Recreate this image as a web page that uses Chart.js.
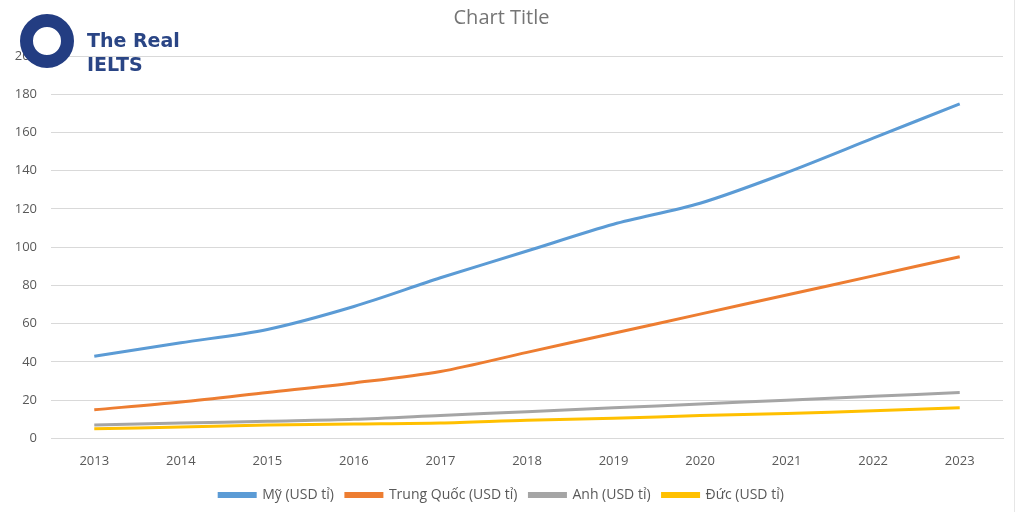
<!DOCTYPE html>
<html>
<head>
<meta charset="utf-8">
<script src="https://cdn.jsdelivr.net/npm/chart.js@4"></script>
<style>
  html, body { margin: 0; padding: 0; background: #fff; }
  #wrap { position: relative; width: 1024px; height: 512px; }
  #logo { position: absolute; left: 0; top: 0; pointer-events: none; }
  #logo .ring { position: absolute; left: 20px; top: 14px; width: 54px; height: 54px; border-radius: 50%;
                border: 13px solid #233d82; box-sizing: border-box; background: #fff; }
  #logo .txt { position: absolute; left: 87px; top: 28px; font-family: "DejaVu Sans", sans-serif; font-weight: bold;
               font-size: 19px; line-height: 24px; color: #2a4585; white-space: nowrap; }
  #edge { position: absolute; left: 1014px; top: 0; width: 1px; height: 512px; background: #e6e6e6; }
</style>
</head>
<body>
<div id="wrap">
  <canvas id="visitsChart" width="1024" height="512"></canvas>
  <div id="logo"><div class="ring"></div><div class="txt">The Real<br>IELTS</div></div>
  <div id="edge"></div>
</div>
<script>
// données
const years = ['2013', '2014', '2015', '2016', '2017', '2018', '2019', '2020', '2021', '2022', '2023'];
const my = [43, 50, 57, 69, 84, 98, 112, 123, 139, 157, 175];
const trungQuoc = [15, 19, 24, 29, 35, 45, 55, 65, 75, 85, 95];
const anh = [7, 8, 9, 10, 12, 14, 16, 18, 20, 22, 24];
const duc = [5, 6, 7, 7.5, 8, 9.5, 10.5, 12, 13, 14.5, 16];

const textColor = '#595959';

function serie(label, data, color) {
    return {
        label: label,
        data: data,
        borderColor: color,
        backgroundColor: color,
        borderWidth: 3,
        tension: 0.3,
        pointRadius: 0,
        fill: false
    };
}

const ctx = document.getElementById('visitsChart').getContext('2d');
new Chart(ctx, {
    type: 'line',
    data: {
        labels: years,
        datasets: [
            serie('Mỹ (USD tỉ)', my, '#5b9bd5'),
            serie('Trung Quốc (USD tỉ)', trungQuoc, '#ed7d31'),
            serie('Anh (USD tỉ)', anh, '#a5a5a5'),
            serie('Đức (USD tỉ)', duc, '#ffc000')
        ]
    },
    options: {
        responsive: false,
        animation: false,
        layout: { padding: { left: 0, right: 21, top: 6, bottom: 0 } },
        plugins: {
            title: {
                display: true,
                text: 'Chart Title',
                color: '#757575',
                font: { family: 'Open Sans', size: 20, weight: 'normal' },
                padding: { top: 0, bottom: 26 }
            },
            legend: {
                position: 'bottom',
                labels: {
                    color: textColor,
                    boxWidth: 36,
                    boxHeight: 3,
                    padding: 12,
                    font: { family: 'Open Sans', size: 14 }
                }
            },
            tooltip: { enabled: false }
        },
        scales: {
            x: {
                offset: true,
                grid: { display: false },
                border: { color: '#d9d9d9' },
                ticks: { color: textColor, font: { family: 'Open Sans', size: 13 }, maxRotation: 0, padding: 7 }
            },
            y: {
                min: 0,
                max: 200,
                ticks: { stepSize: 20, color: textColor, font: { family: 'Open Sans', size: 13 }, padding: 14 },
                grid: { color: '#d9d9d9', drawTicks: false },
                border: { display: false },
                afterFit: function(scale) { scale.width = 51; }
            }
        }
    }
});
</script>
</body>
</html>
